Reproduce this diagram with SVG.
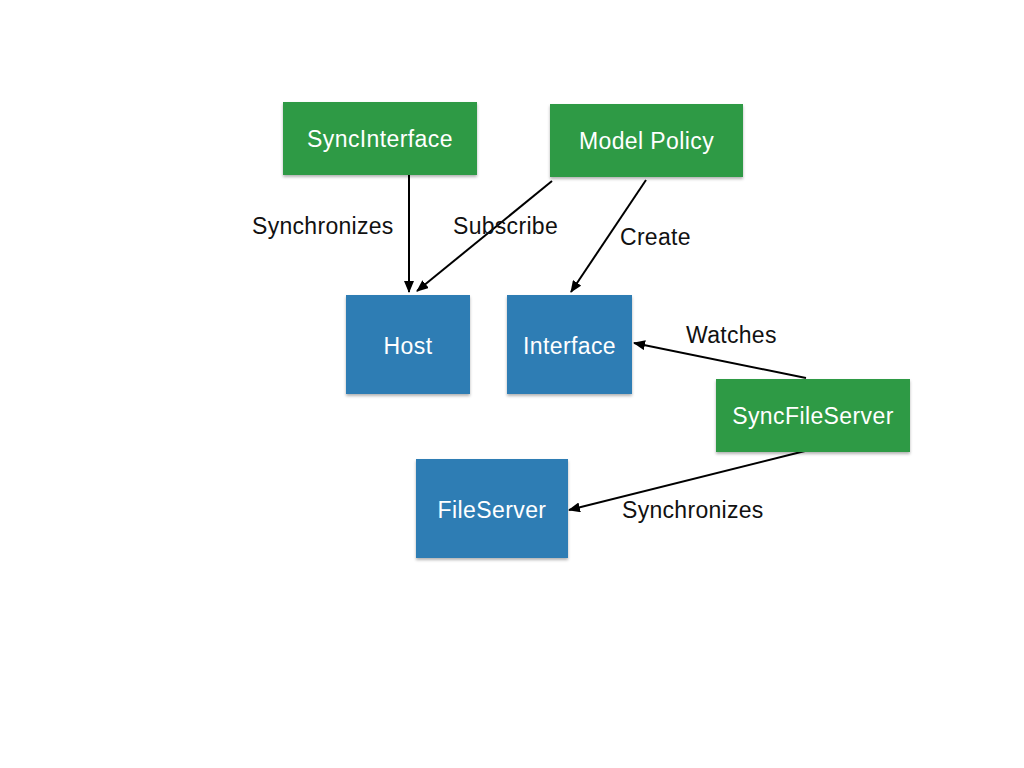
<svg xmlns="http://www.w3.org/2000/svg" width="1024" height="768" viewBox="0 0 1024 768">
<style>
.g{fill:#2f9a45}
.b{fill:#2f7db4}
.n{font-family:"Liberation Sans",Arial,sans-serif;font-size:23px;letter-spacing:0.4px;fill:#ffffff;text-anchor:middle;dominant-baseline:central}
.l{font-family:"Liberation Sans",Arial,sans-serif;font-size:23px;letter-spacing:0.3px;fill:#111111;dominant-baseline:central}
.c{stroke:#000;stroke-width:2;fill:none;marker-end:url(#ah)}
</style>
<defs>
<marker id="ah" markerWidth="12" markerHeight="10" refX="11" refY="5" orient="auto" markerUnits="userSpaceOnUse">
<path d="M0,0 L12,5 L0,10 Z" fill="#000"/>
</marker>
<filter id="sh" x="-10%" y="-10%" width="120%" height="130%">
<feDropShadow dx="0" dy="2" stdDeviation="1.5" flood-color="#000" flood-opacity="0.3"/>
</filter>
</defs>
<rect width="1024" height="768" fill="#ffffff"/>
<g id="connectors">
<line class="c" x1="409" y1="175" x2="409" y2="292"/>
<line class="c" x1="552" y1="181" x2="417" y2="291"/>
<line class="c" x1="646" y1="180" x2="571" y2="292"/>
<line class="c" x1="806" y1="378" x2="634" y2="343"/>
<line class="c" x1="805" y1="451" x2="569" y2="510"/>
<text class="l" x="252" y="226">Synchronizes</text>
<text class="l" x="453" y="226">Subscribe</text>
<text class="l" x="620" y="237">Create</text>
<text class="l" x="686" y="335">Watches</text>
<text class="l" x="622" y="510">Synchronizes</text>
</g>
<g id="SyncInterface"><rect class="g" x="283" y="102" width="194" height="73" filter="url(#sh)"/><text class="n" x="380" y="139">SyncInterface</text></g>
<g id="ModelPolicy"><rect class="g" x="550" y="104" width="193" height="73" filter="url(#sh)"/><text class="n" x="646.5" y="141">Model Policy</text></g>
<g id="Host"><rect class="b" x="346" y="295" width="124" height="99" filter="url(#sh)"/><text class="n" x="408" y="346">Host</text></g>
<g id="Interface"><rect class="b" x="507" y="295" width="125" height="99" filter="url(#sh)"/><text class="n" x="569.5" y="346">Interface</text></g>
<g id="SyncFileServer"><rect class="g" x="716" y="379" width="194" height="73" filter="url(#sh)"/><text class="n" x="813" y="416">SyncFileServer</text></g>
<g id="FileServer"><rect class="b" x="416" y="459" width="152" height="99" filter="url(#sh)"/><text class="n" x="492" y="510">FileServer</text></g>
</svg>
